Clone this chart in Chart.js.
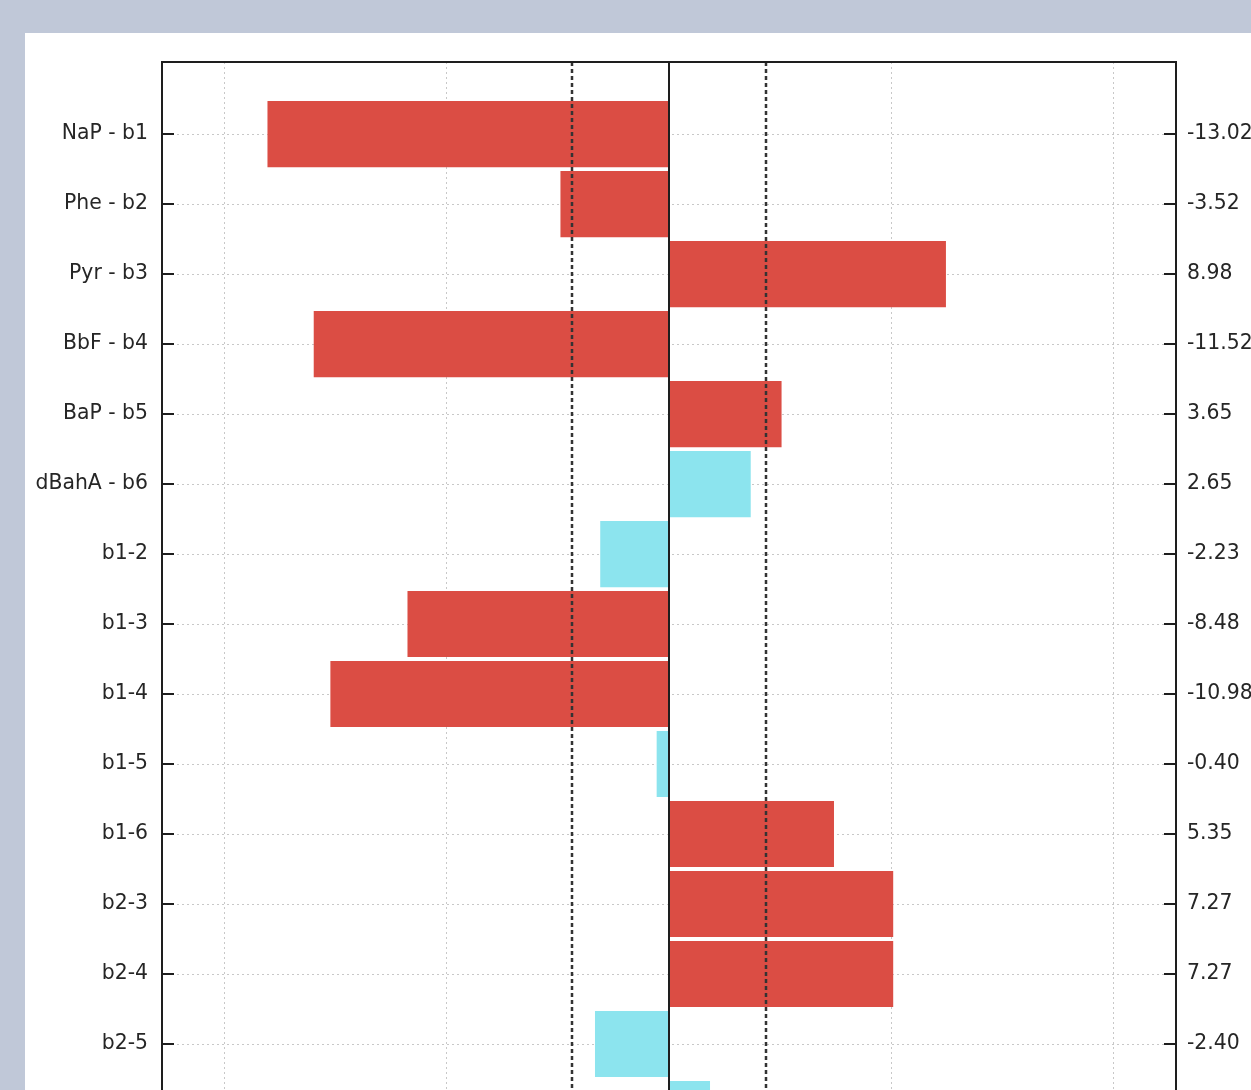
<!DOCTYPE html>
<html>
<head>
<meta charset="utf-8">
<script src="https://cdn.jsdelivr.net/npm/chart.js@4.4.0/dist/chart.umd.min.js"></script>
<style>
  html, body { margin: 0; padding: 0; background: #c0c8d8; overflow: hidden; }
  #panel { position: absolute; left: 25px; top: 33px; width: 1226px; height: 1191px; background: #ffffff; }
</style>
</head>
<body>
<div id="panel"><canvas id="effects" width="1226" height="1191"></canvas></div>
<script>
// effect names (top to bottom) and their standardized effects
var labelnames = ['NaP - b1', 'Phe - b2', 'Pyr - b3', 'BbF - b4', 'BaP - b5', 'dBahA - b6',
  'b1-2', 'b1-3', 'b1-4', 'b1-5', 'b1-6', 'b2-3', 'b2-4', 'b2-5', 'b2-6'];
var efeitos = [-13.02, -3.52, 8.98, -11.52, 3.65, 2.65,
  -2.23, -8.48, -10.98, -0.40, 5.35, 7.27, 7.27, -2.40, 1.33];
var tCrit = 3.14;                       // critical value (dashed lines)
var gridValues = [-14.4, -7.2, 0, 7.2, 14.4];
var xRange = [-16.44, 16.44];

var pontos = efeitos.map(function (v, i) { return { x: v, y: i + 1 }; });
var cores = efeitos.map(function (v) { return Math.abs(v) > tCrit ? '#db4d44' : '#8ce4ee'; });

Chart.defaults.font.family = 'DejaVu Sans';
Chart.defaults.font.size = 20.4;
Chart.defaults.color = '#262626';

// frame, zero line, critical lines and inward tick marks
var frame = {
  id: 'frame',
  afterDatasetsDraw: function (chart) {
    var ctx = chart.ctx, a = chart.chartArea, x = chart.scales.x, y = chart.scales.y;
    var L = Math.round(a.left), R = Math.round(a.right), T = Math.round(a.top), B = Math.round(a.bottom);
    ctx.save();
    ctx.strokeStyle = '#1e1e1e';
    ctx.lineWidth = 2;
    var x0 = Math.round(x.getPixelForValue(0));
    ctx.beginPath(); ctx.moveTo(x0, T); ctx.lineTo(x0, B); ctx.stroke();

    ctx.strokeStyle = '#333333';
    ctx.lineWidth = 2.5;
    ctx.setLineDash([4, 3]);
    [-tCrit, tCrit].forEach(function (t) {
      var px = Math.round(x.getPixelForValue(t));
      ctx.beginPath(); ctx.moveTo(px, T); ctx.lineTo(px, B); ctx.stroke();
    });
    ctx.setLineDash([]);

    ctx.strokeStyle = '#1e1e1e';
    ctx.lineWidth = 2;
    ctx.strokeRect(L, T, R - L, B - T);
    labelnames.forEach(function (l, i) {
      var py = Math.round(y.getPixelForValue(i + 1));
      ctx.beginPath();
      ctx.moveTo(L, py); ctx.lineTo(L + 12, py);
      ctx.moveTo(R - 12, py); ctx.lineTo(R, py);
      ctx.stroke();
    });
    ctx.restore();
  }
};

function indexTicks(scale) {
  scale.ticks = labelnames.map(function (l, i) { return { value: i + 1 }; });
}

var ctx = document.getElementById('effects').getContext('2d');
var chart = new Chart(ctx, {
  type: 'bar',
  data: {
    datasets: [{
      data: pontos,
      backgroundColor: cores,
      borderWidth: 0,
      barPercentage: 0.945,
      categoryPercentage: 1
    }]
  },
  options: {
    indexAxis: 'y',
    responsive: false,
    animation: false,
    layout: { padding: { top: 29, left: 0, right: 0, bottom: 0 } },
    plugins: { legend: { display: false }, tooltip: { enabled: false } },
    scales: {
      x: {
        type: 'linear',
        min: xRange[0], max: xRange[1],
        afterBuildTicks: function (s) { s.ticks = gridValues.map(function (v) { return { value: v }; }); },
        afterFit: function (s) { s.height = 40; },
        grid: { color: function (c) { return c.tick && c.tick.value === 0 ? 'rgba(0,0,0,0)' : '#c8c8c8'; }, drawTicks: false },
        border: { display: false, dash: [2, 3] },
        ticks: { padding: 10 }
      },
      y: {
        type: 'linear',
        reverse: true,
        offset: false,
        min: -0.03, max: labelnames.length + 1,
        afterBuildTicks: indexTicks,
        afterFit: function (s) { s.width = 137; },
        grid: { color: '#c8c8c8', drawTicks: false, offset: false },
        border: { display: false, dash: [2, 3] },
        ticks: {
          padding: 14,
          callback: function (v) { return labelnames[v - 1] || ''; }
        }
      },
      y2: {
        type: 'linear',
        position: 'right',
        reverse: true,
        offset: false,
        min: -0.03, max: labelnames.length + 1,
        afterBuildTicks: indexTicks,
        afterFit: function (s) { s.width = 75; },
        grid: { display: false, drawTicks: false, offset: false },
        border: { display: false },
        ticks: {
          padding: 11,
          callback: function (v) { var e = efeitos[v - 1]; return e === undefined ? '' : e.toFixed(2); }
        }
      }
    }
  },
  plugins: [frame]
});
</script>
</body>
</html>
